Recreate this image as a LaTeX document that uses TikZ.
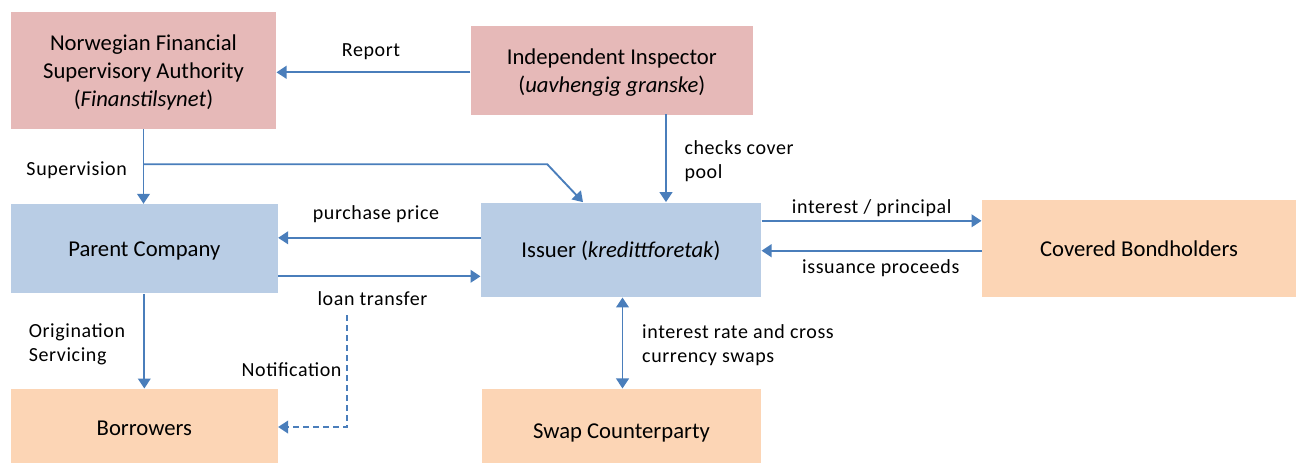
\documentclass[tikz,border=0pt]{standalone}
\usepackage{fontspec}
\setmainfont{Carlito}
\usetikzlibrary{calc}
\usetikzlibrary{arrows.meta}
\tikzset{every picture/.style={line width=0.75pt}}
\definecolor{boxred}{RGB}{230,185,184}
\definecolor{boxblue}{RGB}{185,205,229}
\definecolor{boxorange}{RGB}{252,213,181}
\definecolor{flowblue}{RGB}{74,126,187}
\tikzset{
  party/.style={inner sep=0pt, align=center, font=\fontsize{17}{21}\selectfont},
  oneline/.style={text height=14pt, text depth=2pt},
  lbl/.style={inner sep=0pt, align=left, font=\fontsize{15}{18}\selectfont\addfontfeature{LetterSpace=3}},
  flow/.style={draw=flowblue, line width=1.4pt, -{Triangle[length=7.5pt,width=9.5pt]}},
  flowboth/.style={draw=flowblue, line width=1.4pt, {Triangle[length=7.5pt,width=9.5pt]}-{Triangle[length=7.5pt,width=9.5pt]}},
}

\begin{document}
\begin{tikzpicture}[x=0.75pt,y=0.75pt,yscale=-1,xscale=1]
\useasboundingbox (0,0) rectangle (1301,462);

%Box: supervisory authority
\node (nfsa) [party, fill=boxred, minimum width=198.75pt, minimum height=87.75pt, text height=56.5pt, text depth=2pt] at (143.5,70.3) {Norwegian Financial\\Supervisory Authority\\(\textit{Finanstilsynet})};
%Box: inspector
\node (insp) [party, fill=boxred, minimum width=211.25pt, minimum height=67pt, text height=35pt, text depth=2pt] at (611.8,70.3) {Independent Inspector\\(\textit{uavhengig granske})};
%Box: parent
\node (par) [party, oneline, fill=boxblue, minimum width=200pt, minimum height=66.75pt] at (144.3,248.8) {Parent Company};
%Box: issuer
\node (iss) [party, oneline, fill=boxblue, minimum width=210pt, minimum height=70.75pt] at (621,249.8) {Issuer (\textit{kredittforetak})};
%Box: bondholders
\node (bond) [party, oneline, fill=boxorange, minimum width=235.5pt, minimum height=72.75pt] at (1139,248.5) {Covered Bondholders};
%Box: borrowers
\node (bor) [party, oneline, fill=boxorange, minimum width=200pt, minimum height=57pt] at (144.3,427) {Borrowers};
%Box: swap counterparty
\node (swap) [party, oneline, fill=boxorange, minimum width=208.8pt, minimum height=62pt] at (621.5,430.3) {Swap Counterparty};

%Helper points
\coordinate (brk) at (547.3,164.3);
\coordinate (ck) at (666,114);
\coordinate (dtop) at (346.7,315);

%Report
\draw [flow] ($(insp.west)+(0,2)$) coordinate (rp) -- (rp -| nfsa.east);
%Supervision
\draw [flow] (nfsa.south) -- (nfsa.south |- par.north);
\draw [flow] (nfsa.south |- brk) -- (brk) -- ($(iss.north)+(-38,0)$);
%Checks cover pool
\draw [flow] (ck) -- (ck |- iss.north);
%Purchase price / loan transfer
\draw [flow] ($(iss.west)+(0,-12)$) coordinate (pp) -- (pp -| par.east);
\draw [flow] ($(par.east)+(0,27.5)$) coordinate (lt) -- (lt -| iss.west);
%Notification
\draw [flow, dash pattern=on 4.5pt off 3pt] (dtop) |- (bor.east);
%Origination
\draw [flow] (par.south) -- (bor.north);
%Swaps
\draw [flowboth] ($(iss.south)+(1.5,0)$) coordinate (sw) -- (sw |- swap.north);
%Bondholders
\draw [flow] ($(iss.east)+(0,-29)$) coordinate (ip) -- (ip -| bond.west);
\draw [flow] ($(bond.west)+(0,2.2)$) coordinate (ipr) -- (ipr -| iss.east);

% Text Node
\node (lreport) [lbl, anchor=base] at (371,56.5) {Report};
% Text Node
\node (lsup) [lbl, anchor=base] at (76.7,175.7) {Supervision};
% Text Node
\node (lcheck) [lbl, anchor=base west] at (684,178.3) {checks cover\\pool};
% Text Node
\node (lprice) [lbl, anchor=base] at (376,219.3) {purchase price};
% Text Node
\node (lloan) [lbl, anchor=base] at (372.5,305) {loan transfer};
% Text Node
\node (lnote) [lbl, anchor=base east] at (342,376.7) {Notification};
% Text Node
\node (lorig) [lbl, anchor=base west] at (28.3,361.3) {Origination\\Servicing};
% Text Node
\node (lswap) [lbl, anchor=base west] at (641.7,362.7) {interest rate and cross\\currency swaps};
% Text Node
\node (lint) [lbl, anchor=base] at (871.7,213.3) {interest / principal};
% Text Node
\node (liss) [lbl, anchor=base] at (880.8,273.3) {issuance proceeds};

\end{tikzpicture}
\end{document}
